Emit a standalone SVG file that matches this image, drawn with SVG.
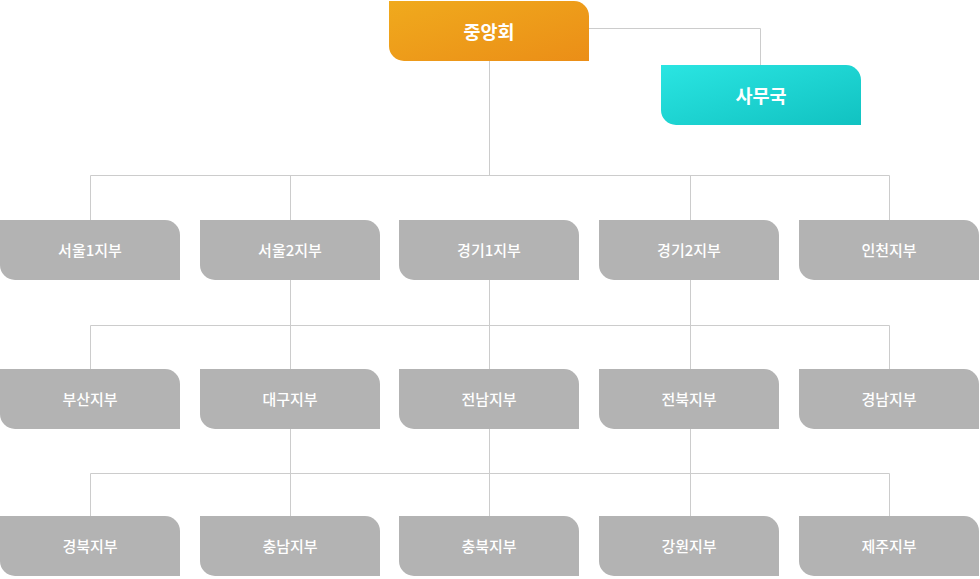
<svg xmlns="http://www.w3.org/2000/svg" width="980" height="579" viewBox="0 0 980 579">
<style>
.ln{stroke:#cccccc;stroke-width:1;fill:none}
.g{fill:#b3b3b3}
.t{font-family:"Noto Sans CJK KR","Noto Sans",sans-serif;font-size:15px;font-weight:500;fill:#ffffff;text-anchor:middle;dominant-baseline:central}
.tt{font-size:18.5px;font-weight:700}
</style>
<defs>
<linearGradient id="og" x1="0" y1="0" x2="1" y2="1">
<stop offset="0" stop-color="#f0aa1d"/>
<stop offset="1" stop-color="#eb8e17"/>
</linearGradient>
<linearGradient id="cg" x1="0" y1="0" x2="1" y2="1">
<stop offset="0" stop-color="#2ae5e2"/>
<stop offset="1" stop-color="#11c2c1"/>
</linearGradient>
<path id="box" d="M0,0 H165 A15,15 0 0 1 180,15 V60 H15 A15,15 0 0 1 0,45 Z"/>
<path id="bigbox" d="M0,0 H185 A15,15 0 0 1 200,15 V60 H15 A15,15 0 0 1 0,45 Z"/>
</defs>
<g id="connectors">
<path class="ln" d="M489.5,61 V175.5 M90.5,220 V175.5 H889.5 V220 M290.5,175.5 V220 M690.5,175.5 V220"/>
<path class="ln" d="M589,28.5 H760.5 V65"/>
<path class="ln" d="M290.5,280 V369 M489.5,280 V369 M690.5,280 V369 M90.5,369 V325.5 H889.5 V369"/>
<path class="ln" d="M290.5,429 V516 M489.5,429 V516 M690.5,429 V516 M90.5,516 V473.5 H889.5 V516"/>
</g>
<g id="n-central"><use href="#bigbox" x="389" y="1" fill="url(#og)"/><text class="t tt" x="489" y="30.5">중앙회</text></g>
<g id="n-office"><use href="#bigbox" x="661" y="65" fill="url(#cg)"/><text class="t tt" x="761" y="94.5">사무국</text></g>
<g id="n-seoul1"><use href="#box" class="g" x="0" y="220"/><text class="t" x="90" y="249.5">서울1지부</text></g>
<g id="n-seoul2"><use href="#box" class="g" x="200" y="220"/><text class="t" x="290" y="249.5">서울2지부</text></g>
<g id="n-gyeonggi1"><use href="#box" class="g" x="399" y="220"/><text class="t" x="489" y="249.5">경기1지부</text></g>
<g id="n-gyeonggi2"><use href="#box" class="g" x="599" y="220"/><text class="t" x="689" y="249.5">경기2지부</text></g>
<g id="n-incheon"><use href="#box" class="g" x="799" y="220"/><text class="t" x="889" y="249.5">인천지부</text></g>
<g id="n-busan"><use href="#box" class="g" x="0" y="369"/><text class="t" x="90" y="398.5">부산지부</text></g>
<g id="n-daegu"><use href="#box" class="g" x="200" y="369"/><text class="t" x="290" y="398.5">대구지부</text></g>
<g id="n-jeonnam"><use href="#box" class="g" x="399" y="369"/><text class="t" x="489" y="398.5">전남지부</text></g>
<g id="n-jeonbuk"><use href="#box" class="g" x="599" y="369"/><text class="t" x="689" y="398.5">전북지부</text></g>
<g id="n-gyeongnam"><use href="#box" class="g" x="799" y="369"/><text class="t" x="889" y="398.5">경남지부</text></g>
<g id="n-gyeongbuk"><use href="#box" class="g" x="0" y="516"/><text class="t" x="90" y="545.5">경북지부</text></g>
<g id="n-chungnam"><use href="#box" class="g" x="200" y="516"/><text class="t" x="290" y="545.5">충남지부</text></g>
<g id="n-chungbuk"><use href="#box" class="g" x="399" y="516"/><text class="t" x="489" y="545.5">충북지부</text></g>
<g id="n-gangwon"><use href="#box" class="g" x="599" y="516"/><text class="t" x="689" y="545.5">강원지부</text></g>
<g id="n-jeju"><use href="#box" class="g" x="799" y="516"/><text class="t" x="889" y="545.5">제주지부</text></g>
</svg>
